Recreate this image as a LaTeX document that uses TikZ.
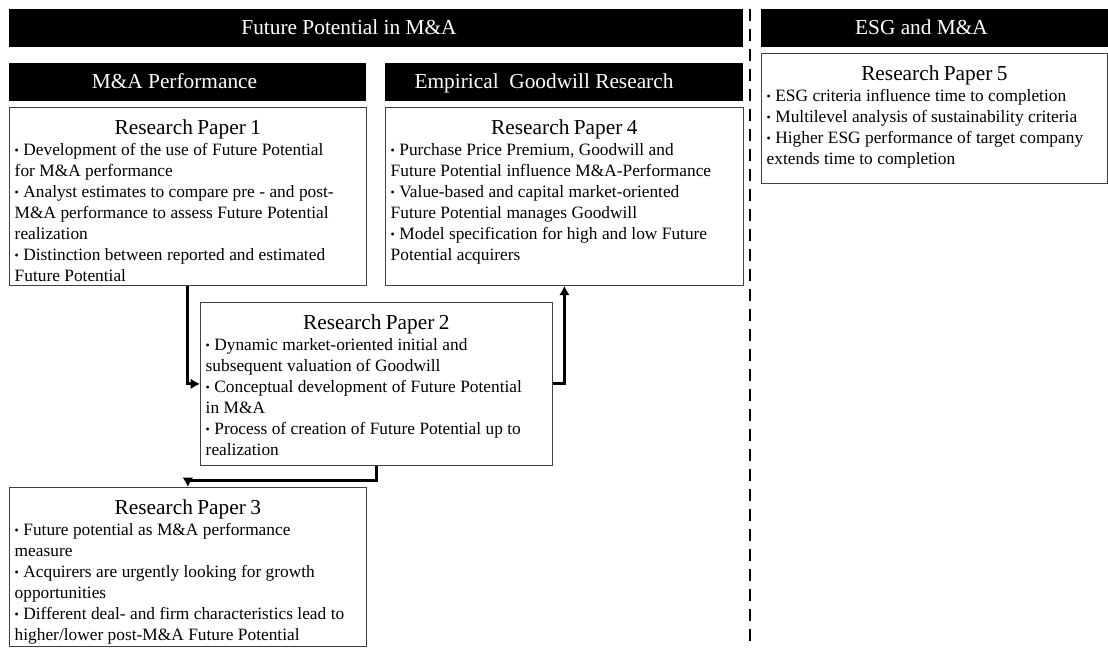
\documentclass[tikz,border=0pt]{standalone}
\usepackage{fontspec}
\setmainfont{Liberation Serif}
\usetikzlibrary{arrows.meta}
\definecolor{Frame}{HTML}{404040}
\def\paperTitle#1{\rule{0pt}{20pt}\makebox[\linewidth]{\fontsize{16}{19}\selectfont Research Paper #1}\par}
\def\dotItem{\raisebox{0.12ex}{\fontsize{9}{9}\selectfont\textbullet}\ }
\newcommand\paperText[3]{\parbox[c][#2][t]{\linewidth}{\paperTitle{#1}\fontsize{13}{15.75}\selectfont #3\par}}

\begin{document}
\begin{tikzpicture}[
    x=0.75pt, y=-0.75pt,
    headBar/.style={fill=black, text=white, font=\fontsize{16}{19}\selectfont,
      minimum height=28.5pt, inner sep=0pt, text height=11.5pt, text depth=1.5pt,
      execute at end node={\hspace{#1}}},
    headBar/.default=19.5pt,
    paperBox/.style={draw=Frame, line width=0.6pt, anchor=north west,
      inner xsep=4pt, inner ysep=0pt, text width=#1},
    flowArrow/.style={line width=2.2pt, -{Latex[length=7pt, width=8pt]}},
    splitLine/.style={line width=2.2pt, dash pattern=on 9pt off 6pt},
  ]
  \useasboundingbox (0,0) rectangle (1108,647);
  % headings
  \node[headBar=40.5pt, minimum width=550.5pt] (fpBar) at (376,28) {Future Potential in M\&A};
  \node[headBar, minimum width=267.75pt] (maBar) at (187.5,82) {M\&A Performance};
  \node[headBar=30pt, minimum width=268.5pt] (gwBar) at (564,82) {Empirical\ \ Goodwill Research};
  \node[headBar, minimum width=260.25pt] (esgBar) at (934.5,28) {ESG and M\&A};
  % separator
  \coordinate (splitTop) at (750,9);
  \coordinate (splitBot) at (750,647);
  \draw[splitLine] (splitTop) -- (splitBot);
  % papers
  \node[paperBox=259.75pt] (paper1) at (9,107) {\paperText{1}{133.5pt}{%
    \dotItem Development of the use of Future Potential\\
    for M\&A performance\\
    \dotItem Analyst estimates to compare pre - and post-\\
    M\&A performance to assess Future Potential\\
    realization\\
    \dotItem Distinction between reported and estimated\\
    Future Potential}};
  \node[paperBox=260.5pt] (paper4) at (385,107) {\paperText{4}{133.5pt}{%
    \dotItem Purchase Price Premium, Goodwill and\\
    Future Potential influence M\&A-Performance\\
    \dotItem Value-based and capital market-oriented\\
    Future Potential manages Goodwill\\
    \dotItem Model specification for high and low Future\\
    Potential acquirers}};
  \node[paperBox=251.5pt] (paper5) at (761,53) {\paperText{5}{97.5pt}{%
    \dotItem ESG criteria influence time to completion\\
    \dotItem Multilevel analysis of sustainability criteria\\
    \dotItem Higher ESG performance of target company\\
    extends time to completion}};
  \node[paperBox=256pt] (paper2) at (200,302) {\paperText{2}{122.25pt}{%
    \dotItem Dynamic market-oriented initial and\\
    subsequent valuation of Goodwill\\
    \dotItem Conceptual development of Future Potential\\
    in M\&A\\
    \dotItem Process of creation of Future Potential up to\\
    realization}};
  \node[paperBox=259.75pt] (paper3) at (9,487) {\paperText{3}{119.25pt}{%
    \dotItem Future potential as M\&A performance\\
    measure\\
    \dotItem Acquirers are urgently looking for growth\\
    opportunities\\
    \dotItem Different deal- and firm characteristics lead to\\
    higher/lower post-M\&A Future Potential}};
  % flow between papers
  \draw[flowArrow] (paper1.south) |- (paper2.west);
  \draw[flowArrow] (paper2.east) -| (paper4.south);
  \draw[flowArrow] (paper2.south) -- ++(0,15) -| (paper3.north);
\end{tikzpicture}
\end{document}
